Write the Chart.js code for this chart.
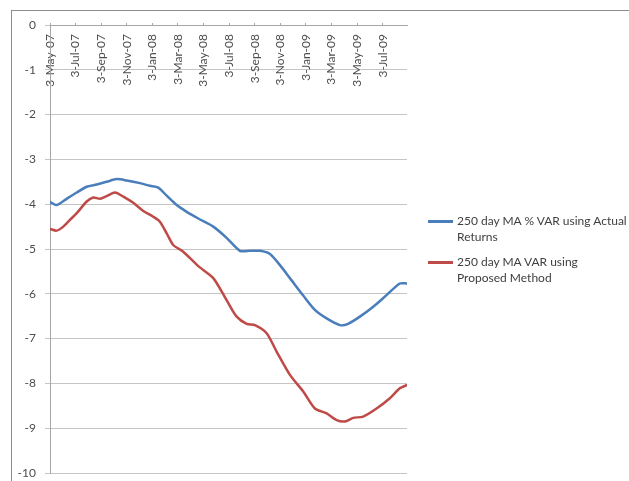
<!DOCTYPE html>
<html>
<head>
<meta charset="utf-8">
<script src="https://cdn.jsdelivr.net/npm/chart.js@4.4.1/dist/chart.umd.min.js"></script>
<style>
  html, body { margin: 0; padding: 0; background: #fff; overflow: hidden; }
  #wrap { position: relative; width: 629px; height: 481px; overflow: hidden; }
  #frame { position: absolute; left: 11px; top: 10px; width: 640px; height: 520px; border-left: 1px solid #8c8c8c; border-top: 1.5px solid #8c8c8c; }
  #Chart { position: absolute; left: 0; top: 0; }
  #legend { position: absolute; left: 428px; top: 213px; font: 12px Lato, sans-serif; color: #404040; }
  .item { position: relative; padding-left: 29px; line-height: 16px; margin-bottom: 9px; white-space: nowrap; }
  .item span { position: absolute; left: 0; top: 7px; width: 25px; height: 2.5px; }
</style>
</head>
<body>
<div id="wrap">
  <div id="frame"></div>
  <canvas id="Chart" width="629" height="481"></canvas>
  <div id="legend"></div>
</div>
<script>
// months since 3-May-07
const tickLabels = ['3-May-07', '3-Jul-07', '3-Sep-07', '3-Nov-07', '3-Jan-08', '3-Mar-08', '3-May-08',
    '3-Jul-08', '3-Sep-08', '3-Nov-08', '3-Jan-09', '3-Mar-09', '3-May-09', '3-Jul-09'];

const blueMonths = [0, 0.52, 1.30, 2.09, 2.87, 3.65, 4.43, 5.21, 5.99, 7.03, 7.81, 8.46, 9.12, 9.90, 10.68,
    11.66, 12.76, 13.80, 14.84, 15.63, 16.41, 17.19, 17.97, 18.75, 19.79, 20.70, 21.62, 22.66, 23.30,
    24.22, 25.26, 26.30, 27.34, 27.87];
const blueVar = [-3.95, -4.02, -3.88, -3.74, -3.61, -3.56, -3.50, -3.44, -3.47, -3.53, -3.59, -3.63, -3.81,
    -4.02, -4.17, -4.33, -4.50, -4.75, -5.04, -5.04, -5.04, -5.11, -5.36, -5.65, -6.04, -6.36, -6.55,
    -6.70, -6.67, -6.51, -6.29, -6.03, -5.77, -5.77];

const redMonths = [0, 0.52, 1.04, 1.56, 2.09, 2.87, 3.38, 3.91, 4.43, 5.08, 5.73, 6.51, 7.29, 8.07, 8.59,
    9.12, 9.63, 10.41, 11.66, 12.76, 13.80, 14.59, 15.37, 16.02, 16.93, 17.71, 18.75, 19.79, 20.70,
    21.62, 22.40, 23.05, 23.70, 24.48, 25.52, 26.56, 27.34, 27.87];
const redVar = [-4.55, -4.59, -4.50, -4.35, -4.20, -3.94, -3.85, -3.88, -3.82, -3.74, -3.83, -3.97, -4.15,
    -4.28, -4.39, -4.65, -4.91, -5.06, -5.40, -5.65, -6.14, -6.51, -6.67, -6.70, -6.88, -7.29, -7.81,
    -8.18, -8.56, -8.67, -8.82, -8.85, -8.77, -8.74, -8.56, -8.33, -8.11, -8.04];

const seriesNames = [['250 day MA % VAR using Actual', 'Returns'], ['250 day MA VAR using', 'Proposed Method']];

const txt = '#4d4d4d';
const ctx = document.getElementById('Chart').getContext('2d');
const myChart = new Chart(ctx, {
    type: 'line',
    data: {
        datasets: [{
            label: seriesNames[0].join(' '),
            data: blueMonths.map((m, i) => ({ x: m, y: blueVar[i] })),
            borderColor: '#4a7ebb',
            backgroundColor: '#4a7ebb'
        }, {
            label: seriesNames[1].join(' '),
            data: redMonths.map((m, i) => ({ x: m, y: redVar[i] })),
            borderColor: '#be4b48',
            backgroundColor: '#be4b48'
        }]
    },
    options: {
        responsive: false,
        animation: false,
        devicePixelRatio: 1,
        layout: { padding: { left: 0, right: 222, top: 25, bottom: 8 } },
        plugins: { legend: { display: false }, tooltip: { enabled: false } },
        elements: {
            point: { radius: 0 },
            line: { borderWidth: 2.5, tension: 0.25, borderCapStyle: 'round' }
        },
        scales: {
            x: {
                type: 'linear',
                position: { y: 0 },
                min: 0,
                max: 27.9,
                // short tick marks above the axis line
                grid: { drawOnChartArea: false, drawTicks: true, tickLength: -3, color: '#a6a6a6' },
                border: { color: '#a6a6a6' },
                ticks: {
                    stepSize: 2,
                    includeBounds: false,
                    autoSkip: false,
                    minRotation: 90,
                    maxRotation: 90,
                    padding: 12,
                    color: txt,
                    font: { family: 'Lato', size: 12 },
                    callback: v => tickLabels[Math.round(v / 2)]
                }
            },
            y: {
                min: -10,
                max: 0,
                grid: { color: '#c4c4c4', tickLength: 5 },
                border: { color: '#a6a6a6' },
                ticks: {
                    stepSize: 1,
                    padding: 9,
                    color: txt,
                    font: { family: 'Lato', size: 12 }
                },
                afterFit: s => { s.width = 50; s.paddingTop = 0; s.paddingBottom = 0; }
            }
        }
    }
});

// legend on the right
const legend = document.getElementById('legend');
myChart.data.datasets.forEach((ds, i) => {
    const item = document.createElement('div');
    item.className = 'item';
    const sw = document.createElement('span');
    sw.style.background = ds.borderColor;
    item.appendChild(sw);
    seriesNames[i].forEach((line, j) => {
        if (j) item.appendChild(document.createElement('br'));
        item.appendChild(document.createTextNode(line));
    });
    legend.appendChild(item);
});
</script>
</body>
</html>
